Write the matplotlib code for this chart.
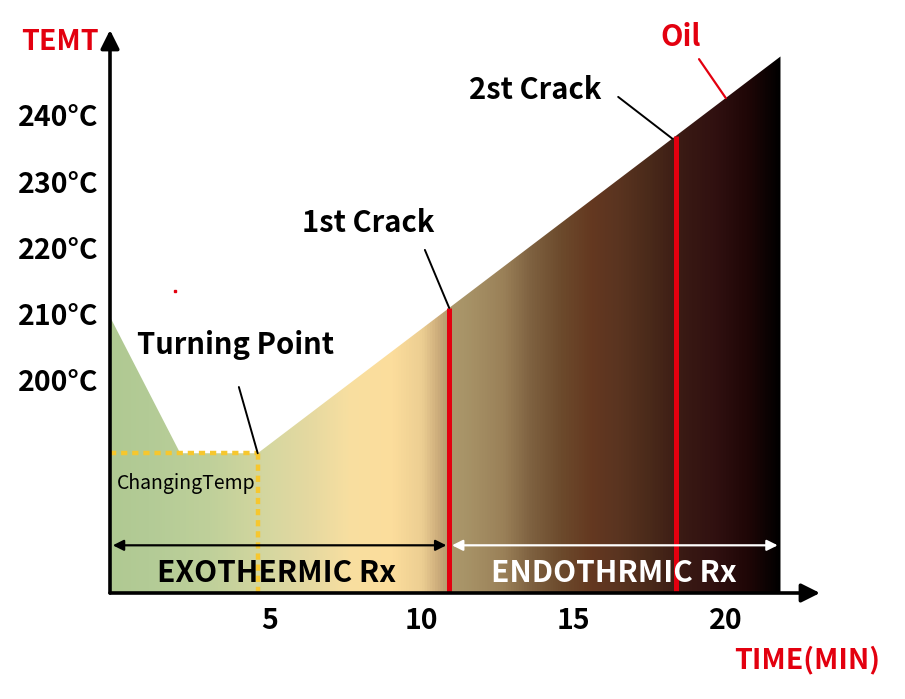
import numpy as np
import matplotlib
matplotlib.use('Agg')
import matplotlib.pyplot as plt
from matplotlib.colors import LinearSegmentedColormap
from matplotlib.patches import Polygon
# ------------------------------ #

# roast profile (time in minutes, bean temperature in C)
profileTime = [-0.26, 2.05, 4.6, 21.8]
profileTemp = [209.6, 189.0, 189.0, 248.9]

turningTime = 4.6
crackTimes = [10.9, 18.37]
crackLabels = ['1st Crack', '2st Crack']
oilTime = 20.0

yTicks = [200, 210, 220, 230, 240]
yTickLabels = ['200°C', '210°C', '220°C', '230°C', '240°C']
xTicks = [5, 10, 15, 20]
xTickLabels = ['5', '10', '15', '20']

# roast colour going from green bean to black
colourTimes = [-0.26, 1.0, 3.0, 5.0, 6.3, 7.6, 9.0, 10.0, 10.6, 10.95, 11.4, 12.7, 13.6, 14.6, 15.6, 16.5, 17.5, 18.6, 19.7, 20.8, 21.8]
colourHex = ['#b0c992', '#b3cb96', '#bfd09a', '#d6d7a0', '#e5d9a0', '#f8dfa0', '#fcdd9c', '#ecce92', '#c8a878', '#ab966a', '#a89468',
             '#9a8058', '#7e6140', '#6c4a2c', '#643820', '#5a3420', '#4a2a1a', '#3a1a14', '#301010', '#1e0606', '#000000']
# ------------------------------ #

plt.rcParams['font.family'] = ['Noto Sans CJK SC', 'DejaVu Sans']
plt.rcParams['font.weight'] = 'bold'

xMin, xMax = -0.26, 23.1
yMin, yMax = 167.9, 252.9

fig = plt.figure(figsize = (9.05, 6.99), dpi = 100, facecolor = 'white')
ax = fig.add_axes([110 / 905, 106 / 699, 710 / 905, 563 / 699])
ax.set_xlim(xMin, xMax)
ax.set_ylim(yMin, yMax)
for s in ax.spines.values():
	s.set_visible(False)

# gradient fill under the profile
pos = [(t - colourTimes[0]) / (colourTimes[-1] - colourTimes[0]) for t in colourTimes]
cmap = LinearSegmentedColormap.from_list('roast', list(zip(pos, colourHex)))
grad = np.linspace(0, 1, 512).reshape(1, -1)
img = ax.imshow(grad, cmap = cmap, aspect = 'auto', origin = 'lower',
	extent = (profileTime[0], profileTime[-1], yMin, max(profileTemp)), zorder = 1)
poly = Polygon(list(zip(profileTime, profileTemp)) + [(profileTime[-1], yMin), (profileTime[0], yMin)],
	closed = True, facecolor = 'none', edgecolor = 'none')
ax.add_patch(poly)
img.set_clip_path(poly)

# crack lines
for t in crackTimes:
	top = np.interp(t, profileTime, profileTemp)
	ax.plot([t, t], [yMin, top], color = '#e3000f', lw = 3.6, zorder = 3, solid_capstyle = 'butt')

# changing temp dashed box
ax.plot([profileTime[0], turningTime], [profileTemp[1], profileTemp[1]], color = '#f6c72e', lw = 3.2,
	dashes = (1.4, 1.1), zorder = 3)
ax.plot([turningTime, turningTime], [yMin, profileTemp[1]], color = '#f6c72e', lw = 3.2,
	dashes = (1.4, 1.1), zorder = 3)
ax.text(2.24, 184.4, 'ChangingTemp', fontsize = 14, ha = 'center', va = 'center', zorder = 4,
	fontweight = 'regular')

# reaction ranges
arrowY = 175.1
ax.annotate('', xy = (profileTime[0], arrowY), xytext = (crackTimes[0], arrowY),
	arrowprops = dict(arrowstyle = '<|-|>', color = 'black', lw = 1.6, mutation_scale = 16), zorder = 4)
ax.annotate('', xy = (crackTimes[0], arrowY), xytext = (profileTime[-1], arrowY),
	arrowprops = dict(arrowstyle = '<|-|>', color = 'white', lw = 1.6, mutation_scale = 16), zorder = 4)
ax.text(5.23, 170.9, 'EXOTHERMIC Rx', fontsize = 21.5, ha = 'center', va = 'center', color = 'black', zorder = 4)
ax.text(16.3, 170.9, 'ENDOTHRMIC Rx', fontsize = 21.5, ha = 'center', va = 'center', color = 'white', zorder = 4)

# callouts
labelKw = dict(fontsize = 21, ha = 'center', va = 'center')
lineKw = dict(arrowstyle = '-', color = 'black', lw = 1.4, shrinkA = 0, shrinkB = 0)
ax.text(3.88, 205.3, 'Turning Point', **labelKw)
ax.annotate('', xy = (turningTime, profileTemp[2]), xytext = (3.98, 199.0), arrowprops = lineKw)

ax.text(8.23, 223.8, crackLabels[0], **labelKw)
ax.annotate('', xy = (crackTimes[0], np.interp(crackTimes[0], profileTime, profileTemp)),
	xytext = (10.1, 219.7), arrowprops = lineKw)
ax.text(13.73, 243.9, crackLabels[1], **labelKw)
ax.annotate('', xy = (18.24, np.interp(18.24, profileTime, profileTemp)),
	xytext = (16.46, 242.8), arrowprops = lineKw)

ax.text(18.5, 251.9, 'Oil', color = '#e3000f', **labelKw)
ax.annotate('', xy = (oilTime, np.interp(oilTime, profileTime, profileTemp)), xytext = (19.12, 248.5),
	arrowprops = dict(arrowstyle = '-', color = '#e3000f', lw = 1.6, shrinkA = 0, shrinkB = 0))
ax.plot([1.88], [213.5], 's', color = '#e3000f', ms = 1.6)

# axes with arrow heads
ax.annotate('', xy = (0, 1), xytext = (0, 0), xycoords = 'axes fraction',
	arrowprops = dict(arrowstyle = '-|>', color = 'black', lw = 2.6, mutation_scale = 28, shrinkA = 0, shrinkB = 0),
	zorder = 5)
ax.annotate('', xy = (1, 0), xytext = (0, 0), xycoords = 'axes fraction',
	arrowprops = dict(arrowstyle = '-|>', color = 'black', lw = 2.6, mutation_scale = 28, shrinkA = 0, shrinkB = 0),
	zorder = 5)

ax.set_xticks(xTicks)
ax.set_xticklabels(xTickLabels, fontsize = 20.5)
ax.set_yticks(yTicks)
ax.set_yticklabels(yTickLabels, fontsize = 20.5)
ax.tick_params(axis = 'both', length = 0)
ax.tick_params(axis = 'y', pad = 8)
ax.tick_params(axis = 'x', pad = 10)

ax.text(-1.91, 251.1, 'TEMT', color = '#e3000f', fontsize = 20.5, ha = 'center', va = 'center',
	clip_on = False)
ax.text(22.68, 157.8, 'TIME(MIN)', color = '#e3000f', fontsize = 20.5, ha = 'center', va = 'center',
	clip_on = False)

plt.savefig('out.png', dpi = 100, facecolor = 'white')
